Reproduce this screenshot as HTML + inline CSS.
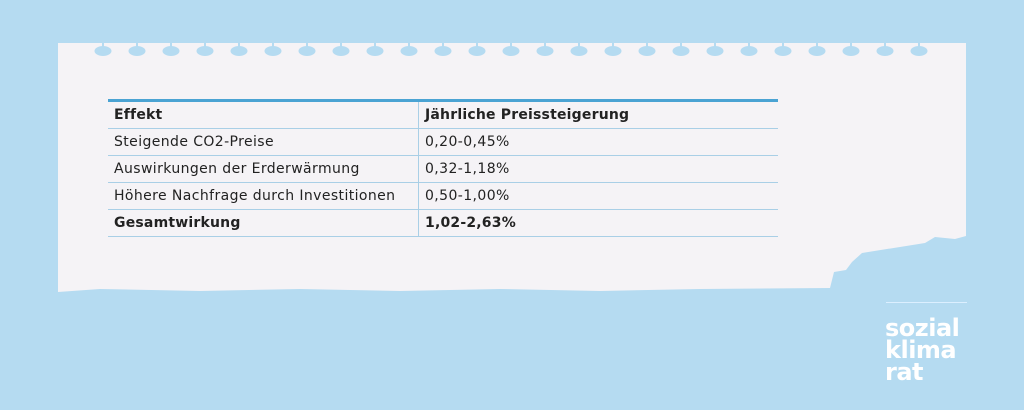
<!DOCTYPE html>
<html><head><style>
body{margin:0;width:1024px;height:410px;background:#b5dbf1;position:relative;overflow:hidden;font-family:"DejaVu Sans","Liberation Sans",sans-serif}
svg{position:absolute;left:0;top:0}
table{position:absolute;left:108px;top:99px;width:670px;border-collapse:collapse;font-size:14px;color:#222;border-top:3px solid #4aa3d3;letter-spacing:0.4px}
td{height:26px;padding:0 0 0 6px;border-bottom:1px solid #a9cfe6;white-space:nowrap}
td:first-child{width:304px;border-right:1px solid #a9cfe6}
b{font-weight:bold;letter-spacing:0.2px}
.logo{position:absolute;left:885px;top:317px;color:#fff;font:bold 24px/22px "DejaVu Sans",sans-serif;letter-spacing:-0.5px}
.ln{position:absolute;left:886px;top:302px;width:81px;height:1px;background:#dcefff}
</style></head><body>
<svg width="1024" height="410">
<polygon fill="#f5f3f6" points="58,43 966,43 966,236 955,239 935,237 925,243 862,253 852,262 846,270 834,272 830,288 700,289 600,291 500,289 400,291 300,289 200,291 100,289 58,292"/>
</svg>
<svg width="1024" height="410" id="holes"></svg>
<table>
<tr><td><b>Effekt</b></td><td><b>Jährliche Preissteigerung</b></td></tr>
<tr><td>Steigende CO2-Preise</td><td>0,20-0,45%</td></tr>
<tr><td>Auswirkungen der Erderwärmung</td><td>0,32-1,18%</td></tr>
<tr><td>Höhere Nachfrage durch Investitionen</td><td>0,50-1,00%</td></tr>
<tr><td><b>Gesamtwirkung</b></td><td><b>1,02-2,63%</b></td></tr>
</table>
<div class="ln"></div>
<div class="logo">sozial<br>klima<br>rat</div>
<script>
var s='';for(var i=0;i<25;i++){var x=103+i*34;s+='<rect x="'+(x-1)+'" y="43" width="2" height="7" fill="#b5dbf1"/><ellipse cx="'+x+'" cy="51" rx="8.5" ry="5" fill="#b5dbf1"/>';}
document.getElementById('holes').innerHTML=s;
</script>
</body></html>
